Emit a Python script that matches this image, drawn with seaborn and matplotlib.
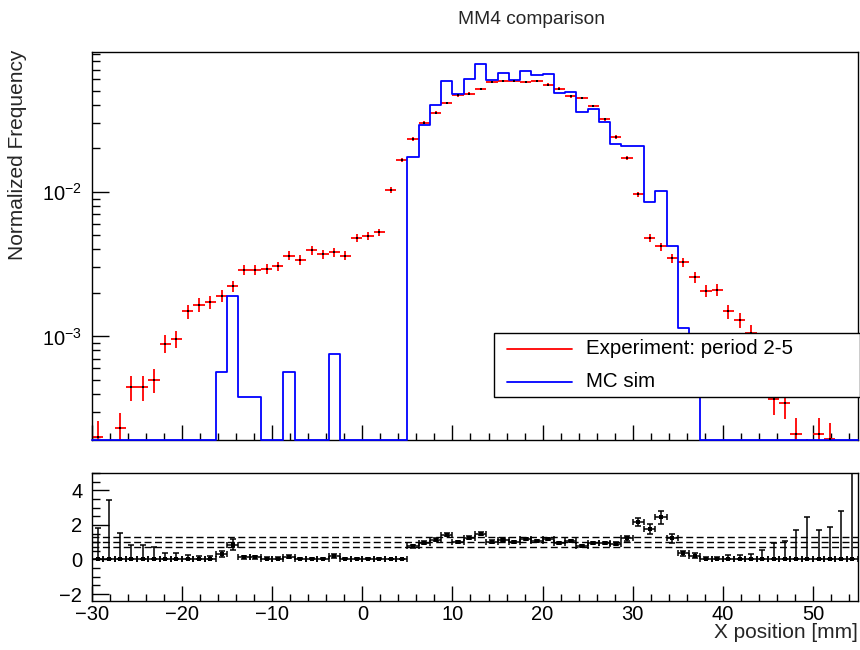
import numpy as np
import matplotlib
matplotlib.use("Agg")
import matplotlib.pyplot as plt
from matplotlib.ticker import MultipleLocator, LogLocator, NullFormatter
from matplotlib.patches import Rectangle
import seaborn as sns

# ---------------------------------------------------------------------------
# Binning: 68 bins of 1.25 mm covering the MM4 X range
# ---------------------------------------------------------------------------
x_min, x_max, n_bins = -30.0, 55.0, 68

# Experiment (period 2-5), normalized frequency per bin and its uncertainty
data_freq = [
    2.0e-4, 1.05e-4, 2.31e-4, 4.44e-4, 4.44e-4, 5.0e-4, 8.9e-4, 9.57e-4, 1.49e-3, 1.66e-3,
    1.73e-3, 1.91e-3, 2.23e-3, 2.89e-3, 2.9e-3, 2.95e-3, 3.05e-3, 3.63e-3, 3.39e-3, 3.95e-3,
    3.69e-3, 3.83e-3, 3.63e-3, 4.81e-3, 4.94e-3, 5.27e-3, 1.03e-2, 1.66e-2, 2.33e-2, 3.02e-2,
    3.54e-2, 4.12e-2, 4.66e-2, 4.79e-2, 5.15e-2, 5.74e-2, 5.89e-2, 5.89e-2, 5.74e-2, 5.89e-2,
    5.53e-2, 5.19e-2, 4.59e-2, 4.47e-2, 3.93e-2, 3.17e-2, 2.40e-2, 1.72e-2, 9.6e-3, 4.79e-3,
    4.19e-3, 3.47e-3, 3.25e-3, 2.56e-3, 2.07e-3, 2.11e-3, 1.49e-3, 1.30e-3, 1.06e-3, 6.8e-4,
    3.67e-4, 3.47e-4, 2.11e-4, 1.45e-4, 2.10e-4, 1.94e-4, 1.28e-4, 3.6e-5,
]
data_err = [
    6.0e-5, 4.3e-5, 6.4e-5, 8.9e-5, 8.9e-5, 9.5e-5, 1.27e-4, 1.31e-4, 1.64e-4, 1.73e-4,
    1.76e-4, 1.85e-4, 2.0e-4, 2.28e-4, 2.28e-4, 2.3e-4, 2.34e-4, 2.56e-4, 2.47e-4, 2.67e-4,
    2.58e-4, 2.63e-4, 2.56e-4, 2.94e-4, 2.98e-4, 3.08e-4, 4.3e-4, 5.5e-4, 6.5e-4, 7.4e-4,
    8.0e-4, 8.6e-4, 9.2e-4, 9.3e-4, 9.6e-4, 1.02e-3, 1.03e-3, 1.03e-3, 1.02e-3, 1.03e-3,
    1.0e-3, 9.7e-4, 9.1e-4, 9.0e-4, 8.4e-4, 7.6e-4, 6.6e-4, 5.6e-4, 4.2e-4, 2.94e-4,
    2.75e-4, 2.5e-4, 2.42e-4, 2.15e-4, 1.93e-4, 1.95e-4, 1.64e-4, 1.53e-4, 1.38e-4, 1.11e-4,
    8.1e-5, 7.9e-5, 6.2e-5, 5.1e-5, 6.2e-5, 5.9e-5, 4.8e-5, 2.5e-5,
]

# MC simulation, normalized frequency per bin
mc_freq = [
    0, 0, 0, 0, 0, 0, 0, 0, 0, 0,
    0, 5.69e-4, 1.91e-3, 3.8e-4, 3.8e-4, 0, 0, 5.69e-4, 0, 0,
    0, 7.59e-4, 0, 0, 0, 0, 0, 0, 1.75e-2, 2.92e-2,
    4.02e-2, 5.86e-2, 4.74e-2, 6.08e-2, 7.72e-2, 5.96e-2, 6.70e-2, 5.96e-2, 6.84e-2, 6.41e-2,
    6.55e-2, 4.83e-2, 4.94e-2, 3.57e-2, 3.77e-2, 3.03e-2, 2.16e-2, 2.09e-2, 2.09e-2, 8.45e-3,
    1.02e-2, 4.24e-3, 1.15e-3, 5.7e-4, 0, 0, 0, 0, 0, 0,
    0, 0, 0, 0, 0, 0, 0, 0,
]

# MC / data ratio uncertainties (asymmetric where the MC bin is empty)
ratio_err_low = [
    0, 0, 0, 0, 0, 0, 0, 0, 0, 0,
    0, 0.18, 0.33, 0.09, 0.09, 0, 0, 0.09, 0, 0,
    0, 0.10, 0, 0, 0, 0, 0, 0, 0.081, 0.082,
    0.082, 0.086, 0.067, 0.075, 0.079, 0.061, 0.064, 0.060, 0.066, 0.062,
    0.067, 0.061, 0.070, 0.060, 0.071, 0.079, 0.088, 0.122, 0.228, 0.286,
    0.368, 0.273, 0.146, 0.13, 0, 0, 0, 0, 0, 0,
    0, 0, 0, 0, 0, 0, 0, 0,
]
ratio_err_high = [
    1.8, 3.43, 1.56, 0.81, 0.81, 0.72, 0.40, 0.38, 0.24, 0.22,
    0.21, 0.18, 0.33, 0.09, 0.09, 0.12, 0.12, 0.09, 0.11, 0.09,
    0.10, 0.10, 0.10, 0.075, 0.073, 0.068, 0.035, 0.022, 0.081, 0.082,
    0.082, 0.086, 0.067, 0.075, 0.079, 0.061, 0.064, 0.060, 0.066, 0.062,
    0.067, 0.061, 0.070, 0.060, 0.071, 0.079, 0.088, 0.122, 0.228, 0.286,
    0.368, 0.273, 0.146, 0.13, 0.17, 0.17, 0.24, 0.28, 0.34, 0.53,
    0.98, 1.04, 1.71, 2.43, 1.71, 1.86, 2.81, 10.0,
]

# Reference lines in the ratio panel
ratio_ref_levels = [0.7, 1.0, 1.3]

# Axis tick labels and texts
title_text = "MM4 comparison"
y_title = "Normalized Frequency"
x_title = "X position [mm]"
legend_labels = ["Experiment: period 2-5", "MC sim"]

# ---------------------------------------------------------------------------
sns.set_theme(style="ticks")
plt.rcParams["font.family"] = ["Liberation Sans", "DejaVu Sans"]
plt.rcParams.update({
    "mathtext.fontset": "custom",
    "mathtext.rm": "Liberation Sans",
    "mathtext.it": "Liberation Sans:italic",
    "mathtext.bf": "Liberation Sans:bold",
    "axes.edgecolor": "black",
    "axes.linewidth": 1.0,
    "xtick.color": "black",
    "ytick.color": "black",
    "xtick.major.width": 1.0,
    "ytick.major.width": 1.0,
    "xtick.minor.width": 1.0,
    "ytick.minor.width": 1.0,
    "axes.unicode_minus": True,
})

RED = "#ff0000"
BLUE = "#0000ff"

data = np.asarray(data_freq, dtype=float)
derr = np.asarray(data_err, dtype=float)
mc = np.asarray(mc_freq, dtype=float)
edges = np.linspace(x_min, x_max, n_bins + 1)
centers = 0.5 * (edges[:-1] + edges[1:])
half_w = 0.5 * (edges[1] - edges[0])

ratio = np.divide(mc, data, out=np.zeros_like(mc), where=data > 0)

W, H = 860, 650
fig = plt.figure(figsize=(W / 100, H / 100), dpi=100)
ax = fig.add_axes([92 / W, (H - 440) / H, 766 / W, 388 / H])
rax = fig.add_axes([92 / W, (H - 601) / H, 766 / W, 128 / H])

# ---------------- main panel ----------------
y_lo, y_hi = 1.92e-4, 0.0929
ax.set_yscale("log")
ax.set_xlim(x_min, x_max)
ax.set_ylim(y_lo, y_hi)

# data points with bin-wide horizontal bars
ax.errorbar(centers, data, yerr=derr, xerr=half_w, fmt="none",
            ecolor=RED, elinewidth=1.3, capsize=0, zorder=2.5)
sns.scatterplot(x=centers, y=data, marker="s", s=3, color="black",
                linewidth=0, ax=ax, zorder=4, legend=False)

# MC histogram outline; empty bins sit on the frame
mc_draw = np.where(mc > 0, mc, y_lo)
sns.lineplot(x=edges, y=np.append(mc_draw, mc_draw[-1]), drawstyle="steps-post",
             color=BLUE, linewidth=1.3, estimator=None, sort=False, ax=ax,
             clip_on=False, zorder=3, legend=False)

ax.xaxis.set_major_locator(MultipleLocator(10))
ax.xaxis.set_minor_locator(MultipleLocator(2))
ax.yaxis.set_major_locator(LogLocator(base=10))
ax.yaxis.set_minor_locator(LogLocator(base=10, subs=np.arange(2, 10)))
ax.yaxis.set_minor_formatter(NullFormatter())
ax.tick_params(which="both", direction="in", top=False, right=False)
ax.tick_params(axis="x", which="major", length=10.8, labelbottom=False)
ax.tick_params(axis="x", which="minor", length=5.4)
ax.tick_params(axis="y", which="major", length=12.2, labelsize=14.5, pad=7)
ax.tick_params(axis="y", which="minor", length=5.8)
ax.set_xlabel("")
ax.set_ylabel("")
for sp in ax.spines.values():
    sp.set_visible(True)
    sp.set_color("black")

# legend box
lx0, ly0, ly1 = 0.5248, 0.110, 0.275
ax.add_patch(Rectangle((lx0, ly0), 1.0 - lx0 + 0.002, ly1 - ly0, transform=ax.transAxes,
                       facecolor="white", edgecolor="black", linewidth=1.0,
                       clip_on=False, zorder=10))
for yy, col, lab in [(0.2353, RED, legend_labels[0]), (0.1503, BLUE, legend_labels[1])]:
    ax.plot([0.5422, 0.6262], [yy, yy], transform=ax.transAxes, color=col,
            linewidth=1.3, clip_on=False, zorder=11)
    ax.text(0.6449, yy, lab, transform=ax.transAxes, ha="left", va="center",
            fontsize=14.8, color="black", zorder=11)

# ---------------- ratio panel ----------------
rax.set_xlim(x_min, x_max)
rax.set_ylim(-2.4, 5.0)
for lev in ratio_ref_levels:
    rax.axhline(lev, color="black", linewidth=1.0, linestyle=(0, (5, 2.5)), zorder=1)
rax.errorbar(centers, ratio, yerr=[ratio_err_low, ratio_err_high], xerr=half_w,
             fmt="none", ecolor="black", elinewidth=1.1, capsize=2.2,
             capthick=1.1, zorder=3)
sns.scatterplot(x=centers, y=ratio, marker="s", s=5, color="black",
                linewidth=0, ax=rax, zorder=4, legend=False)

rax.xaxis.set_major_locator(MultipleLocator(10))
rax.xaxis.set_minor_locator(MultipleLocator(2))
rax.yaxis.set_major_locator(MultipleLocator(2))
rax.yaxis.set_minor_locator(MultipleLocator(0.5))
rax.tick_params(which="both", direction="in", top=False, right=False)
rax.tick_params(axis="x", which="major", length=10.8, labelsize=14.5, pad=3)
rax.tick_params(axis="x", which="minor", length=5.4)
rax.tick_params(axis="y", which="major", length=12.2, labelsize=14.5, pad=7)
rax.tick_params(axis="y", which="minor", length=5.8)
rax.set_xlabel("")
rax.set_ylabel("")
for sp in rax.spines.values():
    sp.set_visible(True)
    sp.set_color("black")

# ---------------- titles ----------------
fig.text(531 / W, 1 - 20 / H, title_text, ha="center", va="center", fontsize=13.8)
fig.text(18 / W, 1 - 50 / H, y_title, rotation=90, ha="center", va="top", fontsize=15)
fig.text(858 / W, 1 - 633 / H, x_title, ha="right", va="center", fontsize=15)

fig.savefig("out.png", dpi=100, facecolor="white")
